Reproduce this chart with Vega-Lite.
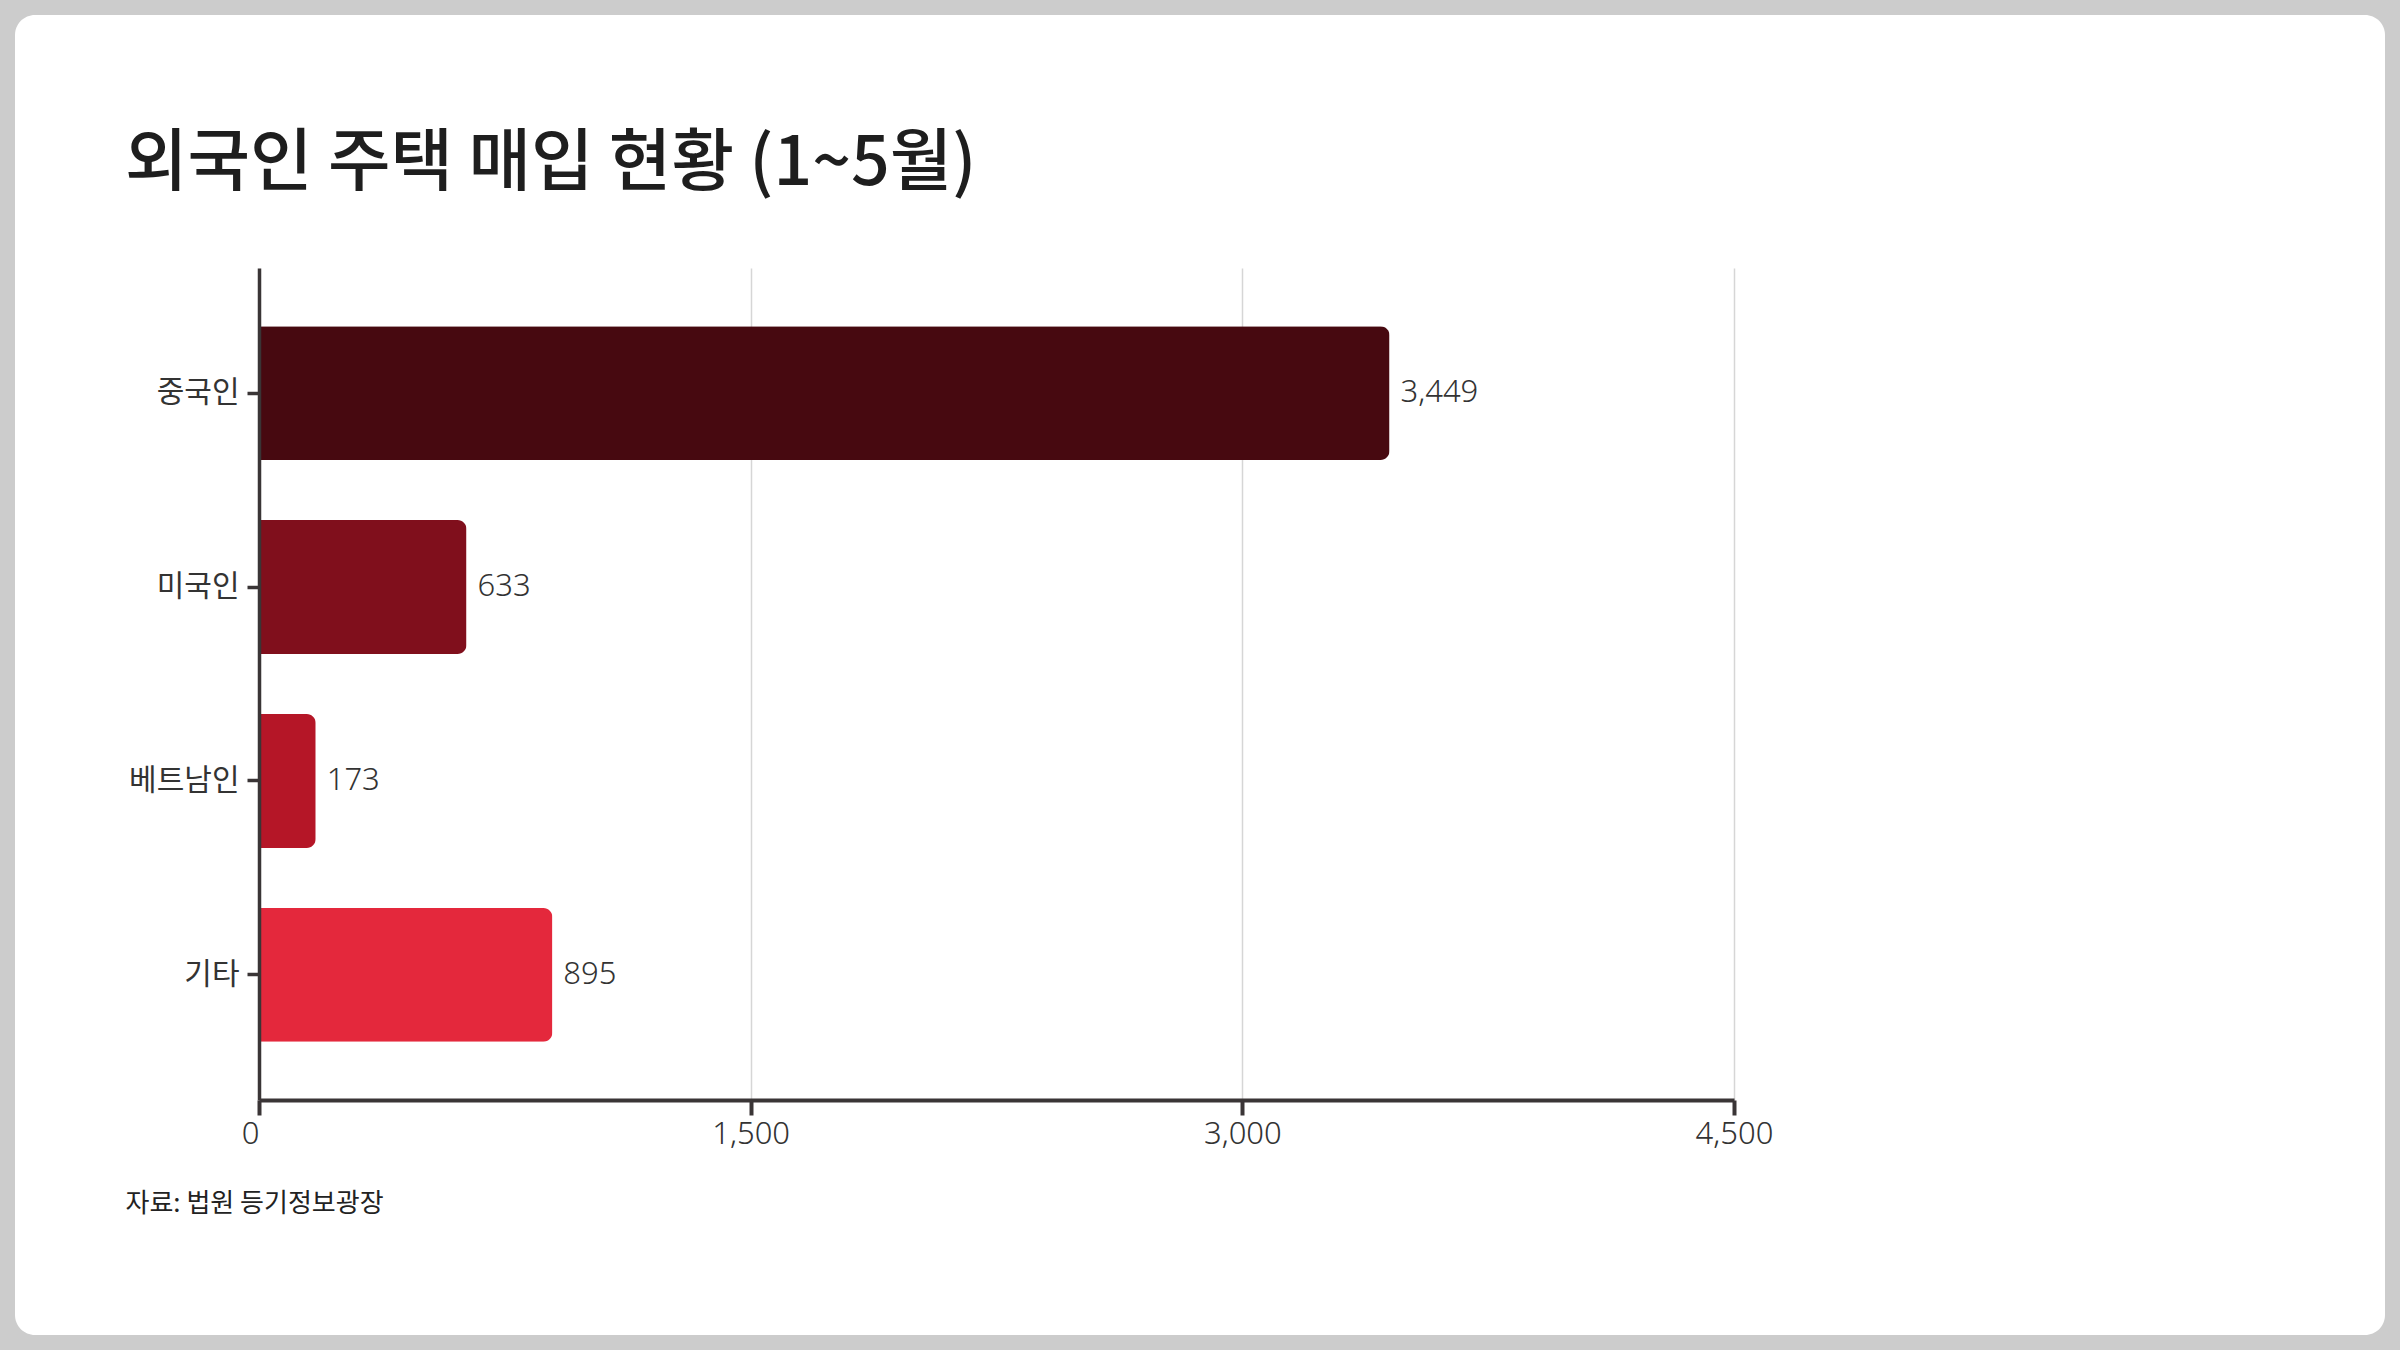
{
  "$schema": "https://vega.github.io/schema/vega-lite/v6.json",
  "width": 2370,
  "height": 1320,
  "padding": 15,
  "autosize": {"type": "none"},
  "background": "#cccccc",
  "title": {
    "text": "외국인 주택 매입 현황 (1~5월)",
    "anchor": "start",
    "frame": "group",
    "orient": "top",
    "offset": 0,
    "dx": 110,
    "dy": 238,
    "baseline": "alphabetic",
    "font": "Noto Sans CJK KR",
    "fontSize": 68,
    "fontWeight": 500,
    "color": "#1e1e1e"
  },
  "data": {
    "values": [
      {"nat": "중국인", "n": 3449},
      {"nat": "미국인", "n": 633},
      {"nat": "베트남인", "n": 173},
      {"nat": "기타", "n": 895}
    ]
  },
  "encoding": {
    "y": {
      "field": "nat",
      "type": "nominal",
      "sort": null,
      "scale": {"range": [253, 1085], "paddingInner": 0.31, "paddingOuter": 0.3},
      "axis": {
        "title": null,
        "offset": -244,
        "zindex": 2,
        "domainColor": "#3a3536",
        "domainWidth": 3.5,
        "tickColor": "#3a3536",
        "tickWidth": 3.5,
        "tickSize": 12,
        "labelPadding": 8,
        "labelFont": "Noto Sans CJK KR",
        "labelFontSize": 30,
        "labelColor": "#333333"
      }
    }
  },
  "layer": [
    {
      "mark": {"type": "bar", "cornerRadiusEnd": 9},
      "encoding": {
        "x": {
          "field": "n",
          "type": "quantitative",
          "scale": {"domain": [0, 4500], "range": [244, 1719], "nice": false, "zero": true},
          "axis": {
            "orient": "top",
            "values": [1500, 3000, 4500],
            "grid": true,
            "gridColor": "#d6d6d6",
            "gridWidth": 1.5,
            "domain": false,
            "ticks": false,
            "labels": false,
            "title": null
          }
        },
        "color": {
          "field": "nat",
          "type": "nominal",
          "scale": {
            "domain": ["중국인", "미국인", "베트남인", "기타"],
            "range": ["#470910", "#800f1c", "#b51627", "#e4283c"]
          },
          "legend": null
        }
      }
    },
    {
      "mark": {
        "type": "text",
        "align": "left",
        "baseline": "middle",
        "dx": 11,
        "font": "Noto Sans",
        "fontWeight": 300,
        "fontSize": 31,
        "color": "#333333"
      },
      "encoding": {
        "x": {
          "field": "n",
          "type": "quantitative",
          "axis": {
            "orient": "bottom",
            "values": [0, 1500, 3000, 4500],
            "format": ",.0f",
            "offset": -235,
            "grid": false,
            "domainColor": "#3a3536",
            "domainWidth": 4,
            "tickColor": "#3a3536",
            "tickWidth": 4,
            "tickSize": 15,
            "labelPadding": 4,
            "labelFont": "Noto Sans",
            "labelFontWeight": 300,
            "labelFontSize": 31,
            "labelColor": "#333333",
            "labelAlign": {"condition": {"test": "datum.value === 0", "value": "right"}, "value": "center"},
            "title": "자료: 법원 등기정보광장",
            "titleFont": "Noto Sans CJK KR",
            "titleFontSize": 26,
            "titleFontWeight": "normal",
            "titleColor": "#222222",
            "titleAlign": "left",
            "titleAnchor": "start",
            "titleBaseline": "middle",
            "titleX": 110,
            "titleY": 103
          }
        },
        "text": {"field": "n", "type": "quantitative", "format": ","}
      }
    }
  ],
  "resolve": {"axis": {"x": "independent"}},
  "config": {
    "view": {"fill": "white", "stroke": null, "cornerRadius": 20}
  }
}
